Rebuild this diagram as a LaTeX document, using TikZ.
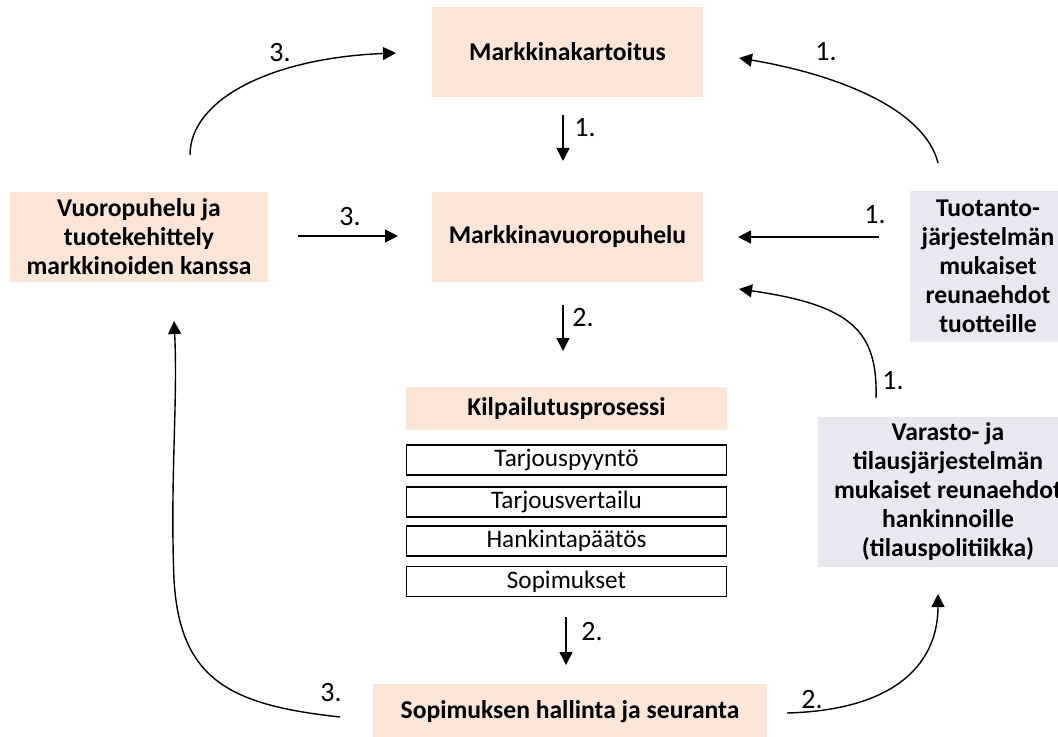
\documentclass[tikz,border=0pt]{standalone}
\usepackage{fontspec}
\setmainfont{Carlito}
\usetikzlibrary{arrows.meta}
\definecolor{peach}{HTML}{FBE5D6}
\definecolor{lav}{HTML}{E9E7F1}
\begin{document}
\begin{tikzpicture}[x=0.5pt,y=-0.5pt,
  box/.style={fill=peach,inner sep=0pt,outer sep=0pt,align=center,
    font=\fontsize{12.8}{14.5}\selectfont\bfseries},
  lbox/.style={box,fill=lav},
  sbox/.style={draw=black,line width=0.65pt,fill=white,inner sep=0pt,outer sep=0pt,
    minimum width=160pt,minimum height=15pt,font=\fontsize{12.6}{14.5}\selectfont},
  lbl/.style={inner sep=0pt,font=\fontsize{14}{16}\selectfont},
  arr/.style={line width=0.7pt,-{Triangle[length=6.5pt,width=6.5pt]}}]
\useasboundingbox (0,0) rectangle (1058,737);
\clip (0,0) rectangle (1058,737);
% boxes
\node[box,minimum width=135.5pt,minimum height=45pt] (mk) at (567.5,52) {Markkinakartoitus};
\node[box,minimum width=135.5pt,minimum height=45pt] (mv) at (567.5,237) {Markkinavuoropuhelu};
\node[box,minimum width=129pt,minimum height=45pt] (vp) at (139,237) {Vuoropuhelu ja\\tuotekehittely\\markkinoiden kanssa};
\node[lbox,minimum width=78pt,minimum height=75.5pt] (tu) at (988,266.5) {Tuotanto-\\järjestelmän\\mukaiset\\reunaehdot\\tuotteille};
\node[box,minimum width=160.5pt,minimum height=21.5pt] (kp) at (566.5,408.5) {Kilpailutusprosessi};
\node[sbox] (t1) at (566.5,460) {Tarjouspyyntö};
\node[sbox] (t2) at (566.5,502) {Tarjousvertailu};
\node[sbox] (t3) at (566.5,541) {Hankintapäätös};
\node[sbox] (t4) at (566.5,581.5) {Sopimukset};
\node[box,minimum width=197pt,minimum height=28pt] (sh) at (570,712) {Sopimuksen hallinta ja seuranta};
\node[lbox,minimum width=130pt,minimum height=75pt] (va) at (948,492) {Varasto- ja\\tilausjärjestelmän\\mukaiset reunaehdot\\hankinnoille\\(tilauspolitiikka)};
% connector end points
\coordinate (a1s) at (563,115); \coordinate (a1e) at (563,161);
\coordinate (a2s) at (563,305); \coordinate (a2e) at (563,351);
\coordinate (a3s) at (566,617); \coordinate (a3e) at (566,665);
\coordinate (h1s) at (298,236); \coordinate (h1e) at (398,236);
\coordinate (h2s) at (879,237); \coordinate (h2e) at (738,237);
\coordinate (c1s) at (190,155); \coordinate (c1e) at (396,53);
\coordinate (c2s) at (938,163); \coordinate (c2e) at (739,58);
\coordinate (c3s) at (876,398); \coordinate (c3e) at (739,289);
\coordinate (c4s) at (340,717); \coordinate (c4m) at (174,580); \coordinate (c4e) at (174,321);
\coordinate (c5s) at (787,713); \coordinate (c5e) at (938,594);
% straight arrows
\draw[arr] (a1s) -- (a1e);
\draw[arr] (a2s) -- (a2e);
\draw[arr] (a3s) -- (a3e);
\draw[arr] (h1s) -- (h1e);
\draw[arr] (h2s) -- (h2e);
% curved arrows
\draw[arr] (c1s) .. controls (190,100) and (270,58) .. (c1e);
\draw[arr] (c2s) .. controls (925,110) and (840,75) .. (c2e);
\draw[arr] (c3s) .. controls (878,330) and (850,305) .. (c3e);
\draw[arr] (c4s) .. controls (230,705) and (180,680) .. (c4m) .. controls (170,480) and (178,400) .. (c4e);
\draw[arr] (c5s) .. controls (900,710) and (938,660) .. (c5e);
% labels
\node[lbl] (n1) at (585,128) {1.};
\node[lbl] (n2) at (583,318) {2.};
\node[lbl] (n3) at (592,632) {2.};
\node[lbl] (n4) at (350,217) {3.};
\node[lbl] (n5) at (875,215) {1.};
\node[lbl] (n6) at (280,53) {3.};
\node[lbl] (n7) at (826,52) {1.};
\node[lbl] (n8) at (893,381) {1.};
\node[lbl] (n9) at (331,693) {3.};
\node[lbl] (n10) at (812,700) {2.};
\end{tikzpicture}
\end{document}
